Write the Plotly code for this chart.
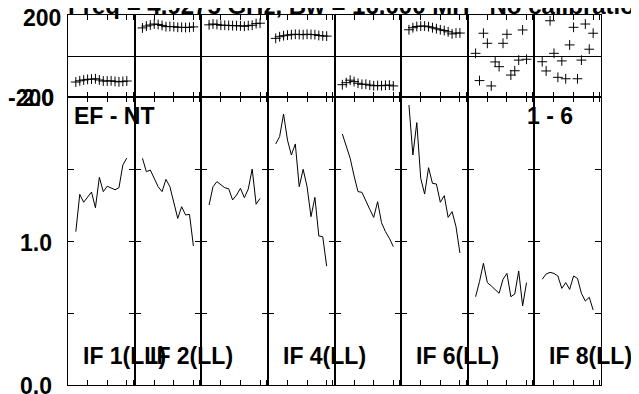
import plotly.graph_objects as go
from plotly.subplots import make_subplots

# ---------------- data ----------------
channels = list(range(2, 16))

amp_if1 = [1.065, 1.324, 1.269, 1.303, 1.340, 1.231, 1.442, 1.343, 1.380, 1.368, 1.356, 1.370, 1.528, 1.576]
amp_if2 = [1.574, 1.481, 1.493, 1.435, 1.377, 1.343, 1.428, 1.377, 1.273, 1.157, 1.238, 1.181, 1.185, 0.965]
amp_if3 = [1.250, 1.377, 1.412, 1.389, 1.370, 1.363, 1.285, 1.319, 1.366, 1.301, 1.361, 1.500, 1.255, 1.296]
amp_if4 = [1.674, 1.725, 1.882, 1.701, 1.597, 1.674, 1.377, 1.498, 1.377, 1.169, 1.303, 1.035, 1.030, 0.825]
amp_if5 = [1.743, 1.655, 1.574, 1.451, 1.343, 1.338, 1.273, 1.220, 1.164, 1.273, 1.127, 1.065, 1.019, 0.961]
amp_if6 = [1.944, 1.597, 1.822, 1.435, 1.326, 1.509, 1.400, 1.396, 1.269, 1.315, 1.164, 1.204, 1.100, 0.917]
amp_if7 = [0.613, 0.718, 0.845, 0.711, 0.688, 0.660, 0.637, 0.734, 0.775, 0.613, 0.632, 0.792, 0.549, 0.711]
amp_if8 = [0.734, 0.771, 0.782, 0.775, 0.757, 0.671, 0.711, 0.664, 0.757, 0.740, 0.637, 0.583, 0.609, 0.521]

phase_if1 = [-127, -121, -117, -114, -113, -111, -117, -122, -122, -121, -124, -126, -124, -122]
phase_if2 = [137, 146, 151, 156, 154, 149, 143, 144, 143, 140, 140, 139, 140, 142]
phase_if3 = [152, 156, 154, 150, 150, 149, 148, 148, 147, 145, 148, 150, 158, 160]
phase_if4 = [86, 94, 99, 102, 104, 106, 105, 104, 106, 105, 104, 100, 98, 97]
phase_if5 = [-140, -130, -118, -125, -133, -138, -138, -142, -145, -144, -145, -143, -142, -146]
phase_if6 = [128, 138, 144, 146, 146, 143, 138, 133, 128, 124, 118, 108, 112, 112]
phase_if7 = [13, -120, 111, 62, -146, -29, -52, 62, 106, -93, -72, -20, 127, -16]
phase_if8 = [-28, -73, 172, 13, -104, -24, -111, 54, 140, -111, -20, 156, 33, 111]

amps = [amp_if1, amp_if2, amp_if3, amp_if4, amp_if5, amp_if6, amp_if7, amp_if8]
phases = [phase_if1, phase_if2, phase_if3, phase_if4, phase_if5, phase_if6, phase_if7, phase_if8]

if_labels = {1: "IF 1(LL)", 2: "IF 2(LL)", 4: "IF 4(LL)", 6: "IF 6(LL)", 8: "IF 8(LL)"}
title_text = "Freq = 4.9275 GHz, Bw = 16.000 MH   No calibration"
baseline_text = "EF - NT"
stokes_text = "1 - 6"

x_range = [0, 17]
x_ticks = [5, 10, 15, 16.6]
phase_range = [-200, 200]
amp_range = [0, 2.0]
amp_ticks = [0.5, 1.0, 1.5]

# ---------------- figure ----------------
W, H = 639, 394
OFF = 8  # page body offset of the figure inside the window
ML, MT = 68 - OFF, 15 - OFF
MR = W - (601 - OFF)
MB = H - (385 - OFF)
PW, PH = W - ML - MR, H - MT - MB

NP = 8
fig = make_subplots(rows=2, cols=NP, horizontal_spacing=0, vertical_spacing=0,
                    row_heights=[82, 288])

FONT = "Liberation Sans, Arial, sans-serif"

for i in range(NP):
    c = i + 1
    fig.add_trace(go.Scatter(x=channels, y=phases[i], mode="markers",
                             marker=dict(symbol="cross-thin", size=7,
                                         line=dict(width=1, color="black")),
                             showlegend=False, hoverinfo="skip"), row=1, col=c)
    fig.add_trace(go.Scatter(x=channels, y=amps[i], mode="lines",
                             line=dict(width=1, color="black"),
                             showlegend=False, hoverinfo="skip"), row=2, col=c)
    xcommon = dict(range=x_range, tickvals=x_ticks, ticks="inside", ticklen=5,
                   tickwidth=1, tickcolor="black", showticklabels=False,
                   showline=True, linecolor="black", linewidth=1, mirror="ticks",
                   showgrid=False, zeroline=False)
    fig.update_xaxes(**xcommon, row=1, col=c)
    fig.update_xaxes(**xcommon, row=2, col=c)
    fig.update_yaxes(range=phase_range, showticklabels=False, ticks="",
                     showline=True, linecolor="black", linewidth=1, mirror=True,
                     showgrid=False, zeroline=True, zerolinecolor="black",
                     zerolinewidth=1, row=1, col=c)
    fig.update_yaxes(range=amp_range, tickvals=amp_ticks, ticks="inside", ticklen=6,
                     tickwidth=1, tickcolor="black", showticklabels=False,
                     showline=True, linecolor="black", linewidth=1, mirror="ticks",
                     showgrid=False, zeroline=False, row=2, col=c)

def px_x(px):
    return (px - OFF - ML) / PW

def px_y(py):
    return (H - MB - (py - OFF)) / PH

bold = dict(family=FONT, size=23, color="black", weight="bold")
ann = []
# axis value labels
ann.append(dict(text="200", xref="paper", yref="y", x=px_x(63), y=200, xanchor="right", yanchor="middle", yshift=-3))
ann.append(dict(text="-200", xref="paper", yref="y", x=px_x(56), y=-200, xanchor="right", yanchor="middle", yshift=-1))
ann.append(dict(text="2.0", xref="paper", yref="y9", x=px_x(56), y=2.0, xanchor="right", yanchor="middle", yshift=-1))
ann.append(dict(text="1.0", xref="paper", yref="y9", x=px_x(54), y=1.0, xanchor="right", yanchor="middle", yshift=-2))
ann.append(dict(text="0.0", xref="paper", yref="y9", x=px_x(54), y=0.0, xanchor="right", yanchor="middle", yshift=-1))
# title (cut off at top)
ann.append(dict(text=title_text, xref="paper", yref="paper", x=px_x(66), y=px_y(21),
                xanchor="left", yanchor="bottom", font=dict(bold, size=24)))
ann.append(dict(text=baseline_text, xref="paper", yref="paper", x=px_x(72), y=px_y(116),
                xanchor="left", yanchor="middle"))
ann.append(dict(text=stokes_text, xref="paper", yref="paper", x=px_x(525), y=px_y(116),
                xanchor="left", yanchor="middle"))
for c, lab in if_labels.items():
    ann.append(dict(text=lab, xref="paper", yref="paper",
                    x=px_x(68 + (c - 1) * 533 / NP + 13),
                    y=px_y(356), xanchor="left", yanchor="middle"))
for a in ann:
    a["showarrow"] = False
    a.setdefault("font", bold)

fig.update_layout(width=W, height=H, margin=dict(l=ML, r=MR, t=MT, b=MB),
                  paper_bgcolor="white", plot_bgcolor="white",
                  annotations=ann, showlegend=False)

fig.write_html("out.html")
